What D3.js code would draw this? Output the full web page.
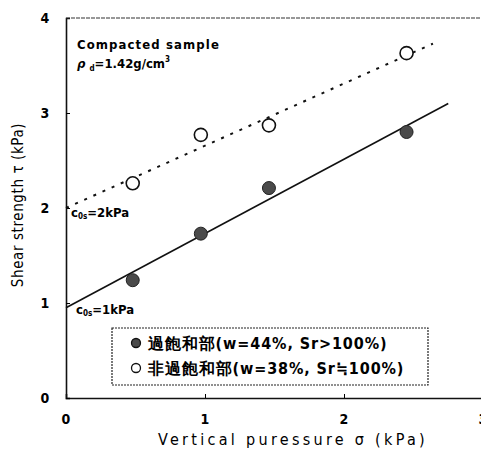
<!DOCTYPE html>
<html>
<head>
<meta charset="utf-8">
<script src="https://cdn.jsdelivr.net/npm/d3@7"></script>
<style>
  body { margin: 0; background: #fff; }
  text { font-family: "DejaVu Sans Condensed", "DejaVu Sans", sans-serif; fill: #000; }
</style>
</head>
<body>
<svg></svg>
<script>
// data
const sigma = [0.48, 0.97, 1.46, 2.45];
const tauSat = [1.24, 1.73, 2.21, 2.80];      // 過飽和部 (filled)
const tauUnsat = [2.26, 2.77, 2.87, 3.63];    // 非過飽和部 (open)
const fitSatX = [0, 2.75], fitSatY = [0.95, 3.10];
const fitUnsatX = [0, 2.64], fitUnsatY = [2.00, 3.73];
const xTicks = [0, 1, 2, 3];
const yTicks = [0, 1, 2, 3, 4];
const legendLabels = ["過飽和部(w=44%, Sr>100%)", "非過飽和部(w=38%, Sr≒100%)"];

let width = 481,
    height = 456;

const svg = d3.select("svg")
    .attr("width", width)
    .attr("height", height);

const x = d3.scaleLinear().domain([0, 3]).range([66, 483]);
const y = d3.scaleLinear().domain([0, 4]).range([398, 18]);

// axes (ticks inside)
svg.append("g")
    .attr("transform", `translate(0 ${y(0)})`)
    .call(d3.axisBottom(x).tickValues(xTicks).tickSize(-4).tickFormat(""))
    .call(g => g.select(".domain").attr("stroke", "#111").attr("stroke-width", 1.6));

svg.append("g")
    .attr("transform", `translate(${x(0)} 0)`)
    .call(d3.axisLeft(y).tickValues(yTicks).tickSize(-4).tickFormat(""))
    .call(g => g.select(".domain").attr("stroke", "#111").attr("stroke-width", 1.6));

// top frame line
svg.append("line")
    .attr("x1", x(0)).attr("x2", width)
    .attr("y1", y(4)).attr("y2", y(4))
    .attr("stroke", "#333").attr("stroke-width", 1.2)
    .attr("stroke-dasharray", "4,1");

// tick labels
svg.append("g").selectAll("text")
    .data(xTicks)
    .enter()
    .append("text")
    .attr("x", d => x(d))
    .attr("y", 424)
    .attr("text-anchor", "middle")
    .attr("font-size", 14)
    .attr("font-weight", "bold")
    .text(d => d);

svg.append("g").selectAll("text")
    .data(yTicks)
    .enter()
    .append("text")
    .attr("x", 45)
    .attr("y", d => y(d) + 5)
    .attr("text-anchor", "middle")
    .attr("font-size", 14)
    .attr("font-weight", "bold")
    .text(d => d);

// axis titles
svg.append("text")
    .attr("x", 293)
    .attr("y", 445)
    .attr("text-anchor", "middle")
    .attr("font-size", 16)
    .attr("letter-spacing", 3.3)
    .text("Vertical puressure  σ (kPa)");

svg.append("text")
    .attr("transform", "translate(23 205) rotate(-90)")
    .attr("text-anchor", "middle")
    .attr("font-size", 15)
    .attr("letter-spacing", 0.6)
    .text("Shear strength  τ (kPa)");

// fitted lines
const line = d3.line().x(d => x(d[0])).y(d => y(d[1]));

svg.append("path")
    .datum(d3.zip(fitSatX, fitSatY))
    .attr("d", line)
    .attr("fill", "none")
    .attr("stroke", "#111")
    .attr("stroke-width", 1.6);

svg.append("path")
    .datum(d3.zip(fitUnsatX, fitUnsatY))
    .attr("d", line)
    .attr("fill", "none")
    .attr("stroke", "#111")
    .attr("stroke-width", 2)
    .attr("stroke-dasharray", "3,7");

// points
svg.append("g").selectAll("circle")
    .data(d3.zip(sigma, tauSat))
    .enter()
    .append("circle")
    .attr("cx", d => x(d[0]))
    .attr("cy", d => y(d[1]))
    .attr("r", 6.5)
    .attr("fill", "#4a4a4a")
    .attr("stroke", "#222")
    .attr("stroke-width", 1);

svg.append("g").selectAll("circle")
    .data(d3.zip(sigma, tauUnsat))
    .enter()
    .append("circle")
    .attr("cx", d => x(d[0]))
    .attr("cy", d => y(d[1]))
    .attr("r", 6.5)
    .attr("fill", "#fff")
    .attr("stroke", "#111")
    .attr("stroke-width", 1.6);

// annotations
svg.append("text")
    .attr("x", 77).attr("y", 49)
    .attr("font-size", 13)
    .attr("font-weight", "bold")
    .attr("letter-spacing", 1.1)
    .text("Compacted sample");

const rho = svg.append("text")
    .attr("x", 77).attr("y", 68)
    .attr("font-size", 13)
    .attr("font-weight", "bold");
rho.append("tspan").attr("font-style", "italic").text("ρ ");
rho.append("tspan").attr("font-size", 8).attr("dy", 3).text("d");
rho.append("tspan").attr("dy", -3).text("=1.42g/cm");
rho.append("tspan").attr("font-size", 8).attr("dy", -6).text("3");

function cLabel(xp, yp, val) {
    const t = svg.append("text")
        .attr("x", xp).attr("y", yp)
        .attr("font-size", 13)
        .attr("font-weight", "bold");
    t.append("tspan").text("c");
    t.append("tspan").attr("font-size", 8).attr("dy", 2).text("0s");
    t.append("tspan").attr("dy", -2).text("=" + val + "kPa");
}
cLabel(71, 217, 2);
cLabel(76, 314, 1);

// legend
const legend = svg.append("g");
legend.append("rect")
    .attr("x", 112).attr("y", 328)
    .attr("width", 316).attr("height", 57)
    .attr("fill", "#fff")
    .attr("stroke", "#222")
    .attr("stroke-width", 1.2)
    .attr("stroke-dasharray", "2,1");

legend.selectAll("circle")
    .data(legendLabels)
    .enter()
    .append("circle")
    .attr("cx", 136)
    .attr("cy", (d, i) => 343 + i * 25)
    .attr("r", 4.5)
    .attr("fill", (d, i) => i === 0 ? "#4a4a4a" : "#fff")
    .attr("stroke", "#111")
    .attr("stroke-width", 1.3);

legend.selectAll("text")
    .data(legendLabels)
    .enter()
    .append("text")
    .attr("x", 148)
    .attr("y", (d, i) => 349 + i * 25)
    .attr("font-size", 16)
    .attr("letter-spacing", 0.9)
    .attr("font-family", "'Noto Sans CJK JP', sans-serif")
    .attr("font-weight", "bold")
    .text(d => d);
</script>
</body>
</html>
